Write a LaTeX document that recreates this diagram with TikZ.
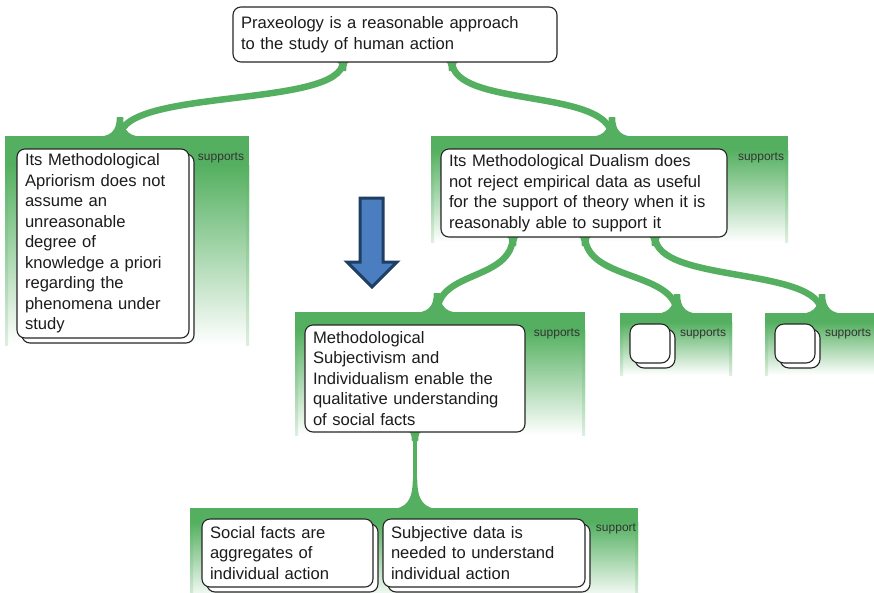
\documentclass[tikz,border=0pt]{standalone}
\usepackage{fontspec}
\setmainfont{Liberation Sans}
\usetikzlibrary{calc,shadows}
\definecolor{grn}{RGB}{84,176,96}
\definecolor{arrfill}{RGB}{74,126,193}
\definecolor{arrline}{RGB}{31,62,100}
\definecolor{txt}{RGB}{28,28,28}
\newcommand\gblock[5]{%
  \fill[grn] (#1,#2) rectangle (#3,#5);
  \shade[top color=grn, bottom color=white] (#1,#5) rectangle (#3,#4);
  \shade[top color=grn, bottom color=grn!20] (#1,#5) rectangle ($(#1,#4)+(3,0)$);
  \shade[top color=grn, bottom color=grn!20] ($(#3,#5)+(-3,0)$) rectangle (#3,#4);
}
\newcommand\flaredown[1]{%
  \fill[grn] ($(#1)+(-26,1)$) .. controls ($(#1)+(-9,1)$) and ($(#1)+(-3.2,-5)$) .. ($(#1)+(-3.2,-19)$)
    -- ($(#1)+(3.2,-19)$) .. controls ($(#1)+(3.2,-5)$) and ($(#1)+(9,1)$) .. ($(#1)+(26,1)$) -- cycle;
}
\newcommand\flareup[1]{%
  \fill[grn] ($(#1)+(-9,-1)$) .. controls ($(#1)+(-4,-1)$) and ($(#1)+(-3.2,3)$) .. ($(#1)+(-3.2,9)$)
    -- ($(#1)+(3.2,9)$) .. controls ($(#1)+(3.2,3)$) and ($(#1)+(4,-1)$) .. ($(#1)+(9,-1)$) -- cycle;
}
\begin{document}
\begin{tikzpicture}[x=1pt,y=-1pt,
  box/.style={draw=black!85, line width=1.1pt, fill=white, rounded corners=8pt,
    inner xsep=8pt, inner ysep=0pt, align=left,
    font=\fontsize{16.6}{20.5}\selectfont, text=txt},
  stacked/.style={copy shadow={shadow xshift=5pt, shadow yshift=-5pt}},
  flow/.style={draw=grn, line width=6.5pt},
  lbl/.style={font=\fontsize{12}{14}\selectfont, text=black!80, inner sep=0pt},
]
\useasboundingbox (0,0) rectangle (874,592);
\clip (0,0) rectangle (874,592);

% green support areas
\gblock{5}{136}{249}{345}{165}
\gblock{431}{136}{788}{242}{150}
\gblock{295}{312}{585}{435}{330}
\gblock{620}{313}{732}{375}{322}
\gblock{765}{313}{880}{375}{322}
\gblock{190}{508}{638}{600}{522}

% node centres
\coordinate (topc) at (395,34.5);
\coordinate (rightc) at (584,193);
\coordinate (midc) at (415,378.5);

% junction coordinates on the green areas
\coordinate (jL) at (120,136);
\coordinate (jR) at (612,136);
\coordinate (jM) at (437,312);
\coordinate (jS1) at (677,313);
\coordinate (jS2) at (822,313);
\coordinate (jB) at (415,508);

% start coordinates at parent bottoms
\coordinate (sL) at ($(topc)+(-52,27.5)$);
\coordinate (sR) at ($(topc)+(57,27.5)$);
\coordinate (sM) at ($(rightc)+(-71,44)$);
\coordinate (sS1) at ($(rightc)+(1,44)$);
\coordinate (sS2) at ($(rightc)+(71,44)$);
\coordinate (sB) at ($(midc)+(0,53.5)$);

% flows
\draw[flow] (sL) .. controls ($(sL)+(-2,46)$) and ($(jL)+(4,-48)$) .. (jL);
\draw[flow] (sR) .. controls ($(sR)+(2,46)$) and ($(jR)+(-4,-48)$) .. (jR);
\draw[flow] (sM) .. controls ($(sM)+(-2,44)$) and ($(jM)+(2,-42)$) .. (jM);
\draw[flow] (sS1) .. controls ($(sS1)+(2,44)$) and ($(jS1)+(-2,-42)$) .. (jS1);
\draw[flow] (sS2) .. controls ($(sS2)+(2,47)$) and ($(jS2)+(-2,-47)$) .. (jS2);
\draw[draw=grn, line width=4.5pt] (sB) -- (jB);
\flaredown{jL}\flaredown{jR}\flaredown{jM}\flaredown{jS1}\flaredown{jS2}
\fill[grn] ($(jB)+(-26,1)$) .. controls ($(jB)+(-8,1)$) and ($(jB)+(-2.2,-8)$) .. ($(jB)+(-2.2,-30)$)
    -- ($(jB)+(2.2,-30)$) .. controls ($(jB)+(2.2,-8)$) and ($(jB)+(8,1)$) .. ($(jB)+(26,1)$) -- cycle;
\flareup{sL}\flareup{sR}\flareup{sM}\flareup{sS1}\flareup{sS2}\flareup{sB}

% nodes
\node[box, text width=308pt, minimum height=55pt] (top) at (topc)
  {Praxeology is a reasonable approach\\to the study of human action};
\node[box, stacked, text width=156pt, minimum height=189pt] (left) at (103,243.5)
  {Its Methodological\\Apriorism does not\\assume an\\unreasonable\\degree of\\knowledge a priori\\regarding the\\phenomena under\\study};
\node[box, text width=270pt, minimum height=88pt] (right) at (rightc)
  {Its Methodological Dualism does\\not reject empirical data as useful\\for the support of theory when it is\\reasonably able to support it};
\node[box, text width=204pt, minimum height=107pt] (mid) at (midc)
  {Methodological\\Subjectivism and\\Individualism enable the\\qualitative understanding\\of social facts};
\node[box, stacked, inner sep=0pt, rounded corners=9pt, minimum width=40pt, minimum height=39pt] (sm1) at (650,343.5) {};
\node[box, stacked, inner sep=0pt, rounded corners=9pt, minimum width=40pt, minimum height=39pt] (sm2) at (795,343.5) {};
\node[box, stacked, text width=155pt, minimum height=68pt] (botl) at (287.5,553)
  {Social facts are\\aggregates of\\individual action};
\node[box, stacked, text width=186pt, minimum height=68pt] (botr) at (484,553)
  {Subjective data is\\needed to understand\\individual action};

% labels
\node[lbl] (l1) at (221,158) {supports};
\node[lbl] (l2) at (761,158) {supports};
\node[lbl] (l3) at (557,334) {supports};
\node[lbl] (l4) at (703,334) {supports};
\node[lbl] (l5) at (848,334) {supports};
\node[lbl] (l6) at (616,529) {support};

% blue arrow
\draw[fill=arrfill, draw=arrline, line width=3pt, line join=miter]
  (360,198) -- (383,198) -- (383,262) -- (397,262) -- (372,287) -- (347,262) -- (360,262) -- cycle;
\end{tikzpicture}
\end{document}
